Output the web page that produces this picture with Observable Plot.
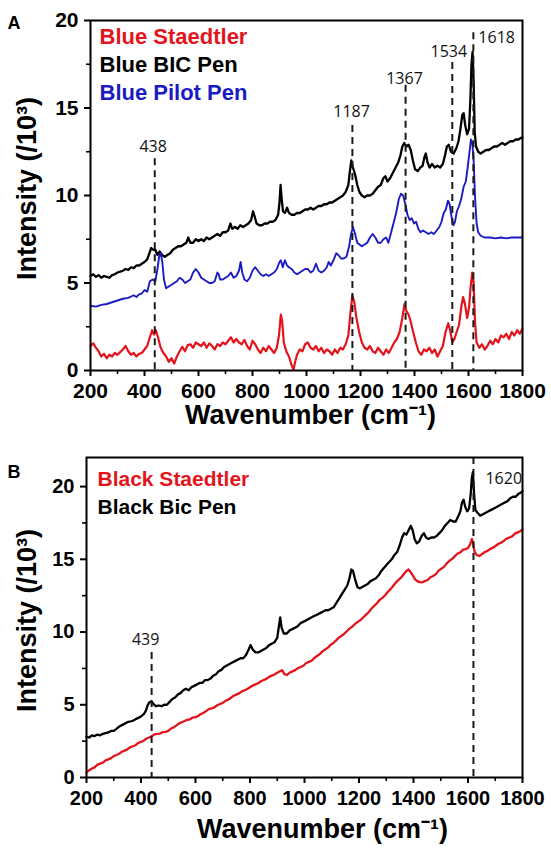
<!DOCTYPE html>
<html><head><meta charset="utf-8">
<script src="https://cdn.jsdelivr.net/npm/d3@7"></script>
<script src="https://cdn.jsdelivr.net/npm/@observablehq/plot@0.6"></script>
<style>
html,body{margin:0;padding:0;background:#fff;}
#chart svg{display:block;}
</style></head><body><div id="chart"></div>
<script>
// ---------- Data: panel A ----------
const blueStaedtler = [[200,1.4],[210,1.55],[220,1.3],[230,1.1],[240,0.8],[250,0.95],[260,0.7],[270,0.9],[280,0.8],[290,1.0],[300,0.9],[310,1.05],[320,1.2],[330,1.4],[340,1.1],[350,0.9],[360,1.0],[370,0.8],[380,0.95],[390,1.0],[400,1.2],[410,1.4],[420,1.9],[428,2.3],[435,2.05],[442,2.3],[450,1.9],[460,1.3],[470,1.0],[480,0.8],[490,0.5],[500,0.7],[510,0.4],[520,0.8],[530,1.1],[540,1.35],[550,1.1],[560,1.45],[570,1.5],[580,1.3],[590,1.6],[600,1.5],[610,1.4],[620,1.6],[630,1.3],[640,1.55],[650,1.4],[660,1.2],[670,1.5],[680,1.4],[690,1.6],[700,1.5],[710,1.7],[720,1.9],[730,1.6],[740,1.8],[750,1.6],[760,1.5],[770,1.75],[780,1.4],[790,1.2],[800,1.7],[810,1.5],[820,1.2],[830,1.0],[840,1.3],[850,1.1],[860,1.4],[870,1.2],[880,1.0],[890,1.3],[898,2.0],[905,3.2],[910,2.8],[916,1.6],[925,1.1],[935,0.8],[945,0.3],[952,0.05],[958,0.5],[965,0.9],[975,1.2],[985,1.1],[995,1.5],[1005,1.6],[1015,1.3],[1025,1.2],[1035,1.4],[1045,1.1],[1055,1.3],[1065,1.0],[1075,1.2],[1085,1.1],[1095,0.9],[1105,1.2],[1115,1.0],[1125,1.3],[1135,1.2],[1145,1.5],[1155,2.0],[1162,3.2],[1170,4.3],[1177,3.9],[1185,3.0],[1195,2.2],[1205,1.6],[1215,1.3],[1225,1.2],[1235,1.4],[1245,1.1],[1255,1.0],[1265,1.3],[1275,1.1],[1285,0.9],[1295,1.2],[1305,1.0],[1315,1.3],[1325,1.6],[1335,1.8],[1345,2.2],[1355,3.0],[1363,3.8],[1370,3.4],[1378,3.2],[1386,2.8],[1395,2.2],[1405,1.6],[1415,1.1],[1425,0.9],[1435,1.2],[1445,1.1],[1455,1.3],[1465,1.0],[1475,1.2],[1485,0.8],[1495,1.1],[1505,1.4],[1515,2.2],[1525,2.7],[1532,2.3],[1540,1.6],[1548,1.8],[1556,2.2],[1565,2.6],[1573,3.6],[1580,4.2],[1587,3.8],[1595,3.0],[1602,3.6],[1608,4.8],[1614,5.6],[1619,5.0],[1624,2.8],[1630,1.6],[1640,1.3],[1650,1.5],[1660,1.2],[1670,1.4],[1680,1.7],[1690,1.5],[1700,1.8],[1710,1.6],[1720,2.0],[1730,1.9],[1740,2.1],[1750,1.8],[1760,2.2],[1770,2.0],[1780,2.3],[1790,2.1],[1800,2.4]];

const bluePilot = [[200,3.7],[220,3.65],[240,3.75],[260,3.8],[280,3.9],[300,4.0],[320,4.1],[340,4.15],[360,4.3],[370,4.2],[380,4.35],[390,4.4],[400,4.6],[410,4.5],[420,5.1],[430,5.2],[440,5.1],[448,5.8],[455,6.6],[460,6.7],[466,6.2],[472,5.2],[480,4.7],[490,4.8],[500,4.9],[510,5.0],[520,5.1],[530,5.3],[540,5.2],[550,5.0],[560,5.1],[570,5.2],[580,5.6],[590,5.8],[600,5.6],[610,5.3],[620,5.2],[630,5.1],[640,5.0],[650,5.0],[660,5.1],[670,5.6],[675,5.5],[680,5.2],[690,5.2],[700,5.3],[710,5.4],[720,5.6],[730,5.3],[740,5.4],[750,5.7],[756,6.2],[762,5.6],[770,5.2],[780,5.1],[790,5.3],[800,5.7],[810,5.9],[820,5.7],[830,5.5],[840,5.4],[850,5.5],[860,5.4],[870,5.5],[880,5.6],[890,5.8],[900,6.2],[905,6.3],[912,5.9],[920,6.3],[928,6.0],[935,5.9],[945,5.8],[955,5.6],[965,5.5],[975,5.6],[985,5.7],[995,5.8],[1005,5.8],[1015,5.6],[1025,5.7],[1035,6.1],[1045,5.7],[1055,5.6],[1065,5.7],[1075,5.9],[1082,6.2],[1090,6.0],[1100,6.3],[1110,6.7],[1118,6.6],[1128,6.4],[1138,6.4],[1148,6.5],[1158,7.1],[1165,7.8],[1172,8.2],[1180,7.8],[1188,7.3],[1196,7.2],[1205,7.1],[1215,7.2],[1225,7.3],[1235,7.6],[1245,7.8],[1255,7.6],[1265,7.3],[1275,7.3],[1285,7.5],[1295,7.6],[1303,7.3],[1312,7.8],[1322,8.4],[1332,9.0],[1342,9.8],[1350,10.1],[1358,10.0],[1366,9.5],[1374,8.9],[1382,8.6],[1390,8.7],[1398,8.4],[1406,8.5],[1414,8.1],[1422,7.9],[1432,8.0],[1442,7.9],[1452,7.8],[1462,7.9],[1472,7.8],[1482,8.0],[1492,8.2],[1500,8.5],[1508,9.0],[1516,9.2],[1524,9.7],[1530,9.5],[1537,8.8],[1544,8.3],[1550,8.5],[1557,9.1],[1565,9.4],[1573,9.8],[1582,10.5],[1590,10.8],[1597,11.6],[1603,12.4],[1609,13.2],[1614,13.0],[1619,12.0],[1624,10.0],[1630,8.4],[1636,7.9],[1645,7.7],[1660,7.6],[1680,7.6],[1700,7.55],[1720,7.6],[1740,7.55],[1760,7.6],[1780,7.6],[1800,7.6]];

const blueBic = [[200,5.4],[210,5.5],[220,5.35],[230,5.45],[240,5.3],[250,5.4],[260,5.35],[270,5.3],[280,5.45],[290,5.5],[300,5.6],[310,5.65],[320,5.7],[330,5.8],[340,5.75],[350,5.9],[360,5.85],[370,6.0],[380,6.0],[390,6.1],[400,6.2],[410,6.35],[418,6.7],[425,7.0],[432,6.9],[440,6.9],[448,6.6],[456,6.8],[465,6.6],[475,6.5],[485,6.6],[495,6.7],[505,6.9],[515,7.0],[525,7.1],[535,7.1],[545,7.2],[555,7.3],[562,7.6],[570,7.3],[580,7.3],[590,7.5],[600,7.4],[610,7.5],[620,7.4],[630,7.6],[640,7.5],[650,7.6],[660,7.7],[670,7.8],[680,7.7],[690,7.9],[700,7.9],[710,8.0],[718,8.4],[725,8.1],[735,8.2],[745,8.1],[755,8.3],[765,8.2],[775,8.3],[785,8.4],[795,8.6],[802,9.1],[808,8.8],[815,8.4],[825,8.3],[835,8.3],[845,8.4],[855,8.4],[865,8.5],[875,8.5],[885,8.6],[895,8.9],[900,9.6],[904,10.6],[908,9.8],[913,9.1],[920,9.0],[928,9.3],[935,9.0],[945,8.9],[955,8.9],[965,9.0],[975,9.0],[985,9.1],[995,9.2],[1005,9.2],[1015,9.3],[1025,9.2],[1035,9.3],[1045,9.4],[1055,9.4],[1065,9.5],[1075,9.5],[1085,9.6],[1095,9.6],[1105,9.7],[1115,9.8],[1125,9.9],[1135,10.0],[1145,10.2],[1155,10.6],[1160,11.3],[1166,12.0],[1172,11.6],[1180,11.2],[1188,10.6],[1196,10.2],[1205,10.0],[1215,9.9],[1225,10.0],[1235,10.0],[1245,10.1],[1255,10.3],[1265,10.5],[1275,10.6],[1285,11.0],[1292,11.1],[1300,10.8],[1310,11.0],[1320,11.3],[1330,11.6],[1340,11.9],[1348,12.3],[1355,12.8],[1362,13.0],[1370,12.8],[1378,12.9],[1386,12.6],[1394,12.0],[1402,11.5],[1412,11.4],[1422,11.6],[1430,11.7],[1437,12.2],[1442,12.4],[1448,11.9],[1456,11.6],[1465,11.8],[1475,11.6],[1485,11.7],[1495,11.6],[1505,11.8],[1513,12.3],[1520,12.8],[1527,12.9],[1535,12.5],[1545,12.4],[1555,12.7],[1563,13.1],[1570,13.8],[1577,14.6],[1582,14.7],[1588,14.0],[1595,13.5],[1602,13.8],[1607,15.5],[1611,17.5],[1615,18.2],[1619,16.5],[1623,13.6],[1628,12.8],[1636,12.5],[1645,12.4],[1655,12.5],[1665,12.6],[1675,12.6],[1685,12.7],[1695,12.8],[1705,12.8],[1715,12.9],[1725,13.0],[1735,12.9],[1745,13.0],[1755,13.1],[1765,13.1],[1775,13.2],[1785,13.2],[1795,13.3],[1800,13.3]];

// ---------- Data: panel B ----------
const blackStaedtler = [[200,0.35],[210,0.5],[220,0.62],[230,0.7],[240,0.88],[250,0.95],[260,1.02],[270,1.18],[280,1.25],[290,1.33],[300,1.47],[310,1.55],[320,1.63],[330,1.78],[340,1.85],[350,1.93],[360,2.08],[370,2.15],[380,2.22],[390,2.38],[400,2.45],[410,2.53],[420,2.68],[430,2.75],[440,2.85],[450,2.97],[460,3.0],[470,3.02],[480,3.12],[490,3.14],[500,3.2],[510,3.37],[520,3.45],[530,3.58],[540,3.72],[550,3.8],[560,3.88],[570,3.97],[580,4.0],[590,4.12],[600,4.15],[610,4.23],[620,4.37],[630,4.45],[640,4.58],[650,4.72],[660,4.75],[670,4.83],[680,4.97],[690,5.05],[700,5.13],[710,5.27],[720,5.35],[730,5.48],[740,5.62],[750,5.7],[760,5.78],[770,5.92],[780,6.0],[790,6.08],[800,6.2],[810,6.32],[820,6.4],[830,6.48],[840,6.62],[850,6.7],[860,6.78],[870,6.92],[880,7.0],[890,7.08],[900,7.2],[910,7.3],[918,7.38],[926,7.1],[936,7.05],[946,7.22],[956,7.3],[966,7.38],[976,7.52],[986,7.6],[996,7.68],[1006,7.87],[1016,7.95],[1026,8.03],[1036,8.22],[1046,8.35],[1056,8.48],[1066,8.67],[1076,8.8],[1086,8.93],[1096,9.12],[1106,9.25],[1116,9.43],[1126,9.62],[1136,9.75],[1146,9.88],[1156,10.07],[1166,10.25],[1176,10.38],[1186,10.57],[1196,10.7],[1206,10.83],[1216,11.02],[1226,11.2],[1236,11.38],[1246,11.62],[1256,11.8],[1266,11.98],[1276,12.22],[1286,12.35],[1296,12.53],[1306,12.77],[1316,12.95],[1326,13.18],[1336,13.42],[1346,13.6],[1356,13.78],[1366,14.02],[1374,14.2],[1382,14.3],[1390,14.1],[1398,13.88],[1406,13.62],[1414,13.5],[1422,13.43],[1432,13.42],[1442,13.5],[1452,13.58],[1462,13.77],[1472,13.85],[1482,13.98],[1492,14.22],[1502,14.35],[1512,14.48],[1522,14.72],[1532,14.9],[1542,15.03],[1552,15.22],[1562,15.4],[1572,15.48],[1582,15.67],[1592,15.7],[1600,15.78],[1608,16.02],[1614,16.4],[1619,16.1],[1624,15.5],[1632,15.3],[1642,15.23],[1652,15.37],[1662,15.5],[1672,15.58],[1682,15.72],[1692,15.8],[1702,15.93],[1712,16.07],[1722,16.15],[1732,16.28],[1742,16.42],[1752,16.5],[1762,16.58],[1772,16.77],[1782,16.85],[1792,16.93],[1800,17.05]];

const blackBic = [[200,2.8],[210,2.75],[220,2.9],[230,2.85],[240,2.95],[250,2.9],[260,3.0],[270,3.05],[280,3.1],[290,3.2],[300,3.2],[310,3.35],[320,3.5],[330,3.6],[340,3.7],[350,3.8],[360,3.85],[370,3.9],[380,4.0],[390,4.1],[400,4.2],[410,4.35],[418,4.6],[425,5.0],[432,5.2],[440,5.2],[448,5.0],[456,4.9],[465,4.95],[475,4.9],[485,5.0],[495,5.0],[505,5.2],[515,5.4],[525,5.5],[535,5.7],[545,5.8],[555,6.0],[565,6.1],[575,6.0],[585,6.2],[595,6.3],[605,6.4],[615,6.5],[625,6.5],[635,6.7],[645,6.7],[655,6.8],[665,7.0],[675,7.1],[685,7.3],[695,7.4],[705,7.6],[715,7.7],[725,7.8],[735,7.9],[745,8.0],[755,8.1],[765,8.2],[775,8.2],[785,8.4],[795,8.8],[802,9.1],[810,8.8],[820,8.6],[830,8.6],[840,8.7],[850,8.8],[860,8.9],[870,9.1],[880,9.2],[890,9.3],[900,9.6],[906,10.4],[911,11.0],[916,10.3],[924,9.9],[935,9.9],[945,10.1],[955,10.2],[965,10.3],[975,10.4],[985,10.6],[995,10.7],[1005,10.8],[1015,10.9],[1025,11.0],[1035,11.1],[1047,11.2],[1057,11.3],[1067,11.4],[1077,11.5],[1087,11.5],[1097,11.6],[1107,11.7],[1117,12.0],[1127,12.3],[1137,12.6],[1147,12.9],[1157,13.2],[1165,13.7],[1172,14.3],[1178,14.2],[1186,13.6],[1194,13.1],[1202,13.0],[1212,13.1],[1222,13.2],[1232,13.3],[1242,13.5],[1252,13.6],[1262,13.7],[1272,13.9],[1282,14.2],[1291,14.4],[1300,14.6],[1310,14.8],[1320,15.0],[1330,15.3],[1340,15.5],[1350,16.0],[1358,16.5],[1366,16.8],[1374,16.7],[1382,17.0],[1390,17.3],[1397,17.0],[1404,16.4],[1412,16.1],[1420,16.2],[1430,16.6],[1438,16.8],[1446,16.5],[1455,16.4],[1465,16.5],[1475,16.5],[1485,16.6],[1495,16.8],[1505,17.0],[1515,17.3],[1525,17.5],[1535,17.7],[1545,17.6],[1555,17.6],[1565,18.0],[1572,18.3],[1578,18.9],[1584,19.1],[1590,18.6],[1597,18.3],[1604,18.5],[1610,19.5],[1614,20.6],[1618,21.0],[1622,19.6],[1627,18.4],[1635,18.2],[1645,18.0],[1655,18.1],[1665,18.2],[1675,18.3],[1685,18.4],[1695,18.5],[1705,18.6],[1715,18.7],[1725,18.8],[1735,18.9],[1745,19.0],[1755,19.2],[1765,19.3],[1775,19.3],[1785,19.5],[1795,19.6],[1800,19.7]];

// ---------- Annotations / ticks ----------
const peakXA = [438, 1170, 1367, 1540, 1618];
const peakLabelA = ["438", "1187", "1367", "1534", "1618"];
const peakTopA = [12.1, 14.0, 16.3, 17.6, 19.3];
const peakLabelXA = [432, 1167, 1363, 1527, 1618];
const peakLabelYA = [12.5, 14.5, 16.4, 17.9, 18.7];

const peakXB = [439, 1620];
const peakLabelB = ["439", "1620"];
const peakTopB = [8.6, 22];
const peakLabelYB = [9.1, 20.2];

const xTicks = [200, 400, 600, 800, 1000, 1200, 1400, 1600, 1800];
const xMinorTicks = [300, 500, 700, 900, 1100, 1300, 1500, 1700];
const yTicks = [0, 5, 10, 15, 20];
const yMinorTicks = [2.5, 7.5, 12.5, 17.5];

const legendA = ["Blue Staedtler", "Blue BIC Pen", "Blue Pilot Pen"];
const legendB = ["Black Staedtler", "Black Bic Pen"];

const RED = "#e3151c", BLUE = "#1b1bc4", BLACK = "#000000";
const FONT = "'Liberation Sans', Arial, Helvetica, sans-serif";
const LABELFONT = "'Open Sans', 'Noto Sans', sans-serif";

const toPts = arr => arr.map(([x, y]) => ({x, y}));

function axes(tickFont) {
  return [
    Plot.axisX({ticks: xTicks, tickSize: 6, tickPadding: 7, strokeWidth: 2, fontSize: tickFont, fontWeight: "bold", tickFormat: d => String(d), label: null}),
    Plot.axisX({ticks: xMinorTicks, tickSize: 4, strokeWidth: 1.6, tickFormat: () => "", label: null}),
    Plot.axisY({ticks: yTicks, tickSize: 6, tickPadding: 6, strokeWidth: 2, fontSize: tickFont, fontWeight: "bold", tickFormat: d => String(d), label: null}),
    Plot.axisY({ticks: yMinorTicks, tickSize: 4, strokeWidth: 1.6, tickFormat: () => "", label: null}),
    Plot.frame({stroke: "black", strokeWidth: 2})
  ];
}

// ---------- Panel A ----------
const plotA = Plot.plot({
  width: 551, height: 430,
  marginLeft: 90, marginRight: 29, marginTop: 20, marginBottom: 60,
  x: {domain: [200, 1800]},
  y: {domain: [0, 20]},
  style: {fontFamily: FONT, background: "white", overflow: "visible", color: "black"},
  marks: [
    Plot.line(toPts(blueBic), {x: "x", y: "y", stroke: BLACK, strokeWidth: 2.3}),
    Plot.line(toPts(bluePilot), {x: "x", y: "y", stroke: BLUE, strokeWidth: 1.9}),
    Plot.line(toPts(blueStaedtler), {x: "x", y: "y", stroke: RED, strokeWidth: 2.2}),
    Plot.ruleX(peakXA.map((x, i) => i), {x: i => peakXA[i], y1: i => peakTopA[i], y2: 0, stroke: "#1a1a1a", strokeWidth: 2, strokeDasharray: "7,5"}),
    Plot.text([0, 1, 2, 3], {x: i => peakLabelXA[i], y: i => peakLabelYA[i], text: i => peakLabelA[i], lineAnchor: "bottom", textAnchor: "middle", fontSize: 16, fontFamily: LABELFONT, fill: "#111"}),
    Plot.text([4], {x: i => peakLabelXA[i], y: i => peakLabelYA[i], text: i => peakLabelA[i], lineAnchor: "bottom", textAnchor: "start", dx: 5, fontSize: 16, fontFamily: LABELFONT, fill: "#111"}),
    ...legendA.map((name, i) => Plot.text([name], {text: d => d, frameAnchor: "top-left", dx: 9, dy: 23 + 28 * i, lineAnchor: "bottom", textAnchor: "start", fontSize: 22, fontWeight: "bold", fill: [RED, BLACK, BLUE][i]})),
    ...axes(21),
    Plot.text(["Wavenumber (cm⁻¹)"], {text: d => d, frameAnchor: "bottom", textAnchor: "middle", lineAnchor: "middle", dx: 4, dy: 45, fontSize: 27, fontWeight: "bold"}),
    Plot.text(["Intensity (/10³)"], {text: d => d, frameAnchor: "left", textAnchor: "middle", lineAnchor: "middle", rotate: -90, dx: -63, dy: -7, fontSize: 27, fontWeight: "bold"}),
    Plot.text(["A"], {text: d => d, frameAnchor: "top-left", dx: -83, dy: 8, lineAnchor: "bottom", textAnchor: "start", fontSize: 18, fontWeight: "bold"})
  ]
});

// ---------- Panel B ----------
const plotB = Plot.plot({
  width: 551, height: 423,
  marginLeft: 86, marginRight: 29, marginTop: 27, marginBottom: 76,
  x: {domain: [200, 1800]},
  y: {domain: [0, 22]},
  style: {fontFamily: FONT, background: "white", overflow: "visible", color: "black"},
  marks: [
    Plot.line(toPts(blackStaedtler), {x: "x", y: "y", stroke: RED, strokeWidth: 2.3}),
    Plot.line(toPts(blackBic), {x: "x", y: "y", stroke: BLACK, strokeWidth: 2.3}),
    Plot.ruleX([0, 1], {x: i => peakXB[i], y1: i => peakTopB[i], y2: 0, stroke: "#1a1a1a", strokeWidth: 2, strokeDasharray: "7,5"}),
    Plot.text([0], {x: i => peakXB[i], y: i => peakLabelYB[i], text: i => peakLabelB[i], lineAnchor: "bottom", textAnchor: "middle", dx: -6, fontSize: 16, fontFamily: LABELFONT, fill: "#111"}),
    Plot.text([1], {x: i => peakXB[i], y: i => peakLabelYB[i], text: i => peakLabelB[i], lineAnchor: "bottom", textAnchor: "start", dx: 12, fontSize: 16, fontFamily: LABELFONT, fill: "#111"}),
    ...legendB.map((name, i) => Plot.text([name], {text: d => d, frameAnchor: "top-left", dx: 11, dy: 28 + 28 * i, lineAnchor: "bottom", textAnchor: "start", fontSize: 21, fontWeight: "bold", fill: [RED, BLACK][i]})),
    ...axes(20),
    Plot.text(["Wavenumber (cm⁻¹)"], {text: d => d, frameAnchor: "bottom", textAnchor: "middle", lineAnchor: "middle", dx: 18, dy: 52, fontSize: 27, fontWeight: "bold"}),
    Plot.text(["Intensity (/10³)"], {text: d => d, frameAnchor: "left", textAnchor: "middle", lineAnchor: "middle", rotate: -90, dx: -59, dy: 3, fontSize: 27, fontWeight: "bold"}),
    Plot.text(["B"], {text: d => d, frameAnchor: "top-left", dx: -79, dy: 20, lineAnchor: "bottom", textAnchor: "start", fontSize: 18, fontWeight: "bold"})
  ]
});

document.getElementById("chart").append(plotA, plotB);
</script></body></html>
